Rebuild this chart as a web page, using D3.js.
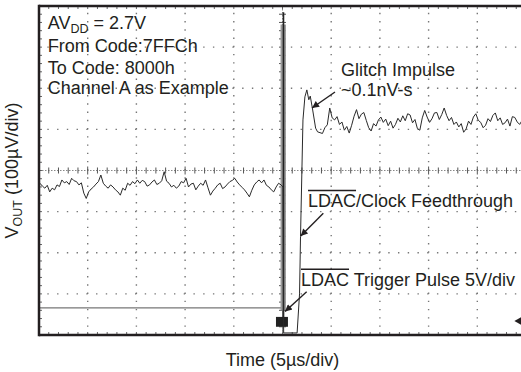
<!DOCTYPE html>
<html><head><meta charset="utf-8">
<script src="https://cdn.jsdelivr.net/npm/d3@7/dist/d3.min.js"></script>
<style>
html,body{margin:0;padding:0;background:#fff;}
svg{display:block;font-family:"Liberation Sans",Arial,Helvetica,sans-serif;}
</style></head>
<body><svg id="c" width="521" height="372"></svg>
<script>
// ---- Axis settings (oscilloscope: 10 x 8 divisions) ----
const timeDomain = [-25, 25];        // µs, 5 µs/div
const voutDomain = [-400, 400];      // µV, 100 µV/div
const divDomain = [-4, 4];           // divisions (trigger channel)
const xLabel = "Time (5µs/div)";

// ---- VOUT trace before the code change (sampled every 0.25 µs from -24.9 µs) ----
const preStart = -24.9, preStep = 0.25;
const preValues = [-31,-38,-43,-36,-52,-43,-47,-35,-39,-23,-30,-27,-34,-19,-25,-27,-35,-30,-55,-68,
  -52,-45,-40,-33,-27,-11,-31,-38,-43,-35,-40,-47,-52,-60,-43,-48,-31,-36,-27,-32,
  -23,-31,-24,-27,-38,-35,-28,-23,-34,-31,-25,-3,-26,-31,-40,-36,-43,-38,-27,-30,
  -19,-40,-33,-31,-47,-38,-31,-36,-23,-42,-60,-50,-43,-35,-31,-44,-40,-33,-27,-24,
  -19,-28,-35,-41,-47,-55,-64,-48,-35,-28,-23,-30,-23,-36,-40,-47,-52,-40,-31,-35];

// ---- VOUT around the transition (time µs, value µV) ----
const transitionT = [0.05, 0.12, 1.5, 1.75, 1.85, 2.1, 2.3, 2.5, 2.7, 2.85, 3.1, 3.4, 3.6];
const transitionV = [-40, -395, -395, -300, -160, 123, 179, 196, 172, 181, 147, 103, 94];

// ---- VOUT after the code change (sampled every 0.25 µs from 3.85 µs) ----
const postStart = 3.85, postStep = 0.25;
const postValues = [92,90,104,111,152,128,123,131,112,118,98,107,91,110,132,148,126,137,141,122,
  104,96,114,108,123,130,117,125,109,120,103,112,127,118,133,121,138,135,116,124,
  102,98,128,146,130,117,126,140,141,124,136,152,134,121,129,112,118,106,114,93,
  101,120,112,130,138,122,117,104,110,126,119,134,140,121,128,112,116,125,108,131,
  129,118,112,122,115];

// ---- LDAC / clock feedthrough band ----
const feedT = [-0.2, 0.35];
const feedV = [-340, 355];
const feedCoreT = 0.1;
const feedCoreV = [-360, 385];

// ---- LDAC trigger pulse (divisions) ----
const trigT = [-25, 0.0, 0.05];
const trigDiv = [-3.34, -3.34, -4.3];
const trigBoxT = [-0.67, 0.56];
const trigBoxDiv = [-3.56, -3.8];
const trigMarker = {t: 24.3, div: -3.66};

// ---- Annotations (data coordinates) ----
const infoLines = ["From Code:7FFCh", "To Code: 8000h", "Channel A as Example"];
const infoV = [288, 235, 186];
const infoT = -24.1;

const W = 521, H = 372;
const svg = d3.select("#c");
const x = d3.scaleLinear().domain(timeDomain).range([39, 526]);
const y = d3.scaleLinear().domain(voutDomain).range([335, 6]);
const yd = d3.scaleLinear().domain(divDomain).range([335, 6]);
const ink = "#231f20";

svg.append("defs").append("clipPath").attr("id","plot")
  .append("rect").attr("x", x(-25)).attr("y", y(400)).attr("width", x(25)-x(-25)).attr("height", y(-400)-y(400));
svg.select("defs").append("marker").attr("id","ah").attr("viewBox","0 0 10 10")
  .attr("refX",10).attr("refY",5).attr("markerWidth",9).attr("markerHeight",7)
  .attr("markerUnits","userSpaceOnUse").attr("orient","auto")
  .append("path").attr("d","M0,0 L10,5 L0,10 z").attr("fill", ink);

const g = svg.append("g");
// Dotted grid
const gridX = d3.range(-20, 25, 5);
const gridY = d3.range(-300, 400, 100);
const dx = x(1) - x(0), dyv = y(0) - y(20);
g.selectAll(".gx").data(gridX.filter(d => d !== 0)).join("line")
  .attr("x1", d => x(d)).attr("x2", d => x(d)).attr("y1", y(400)+ (dyv - 1.4)).attr("y2", y(-400))
  .attr("stroke", "#777").attr("stroke-width", 1.4).attr("stroke-dasharray", `1.4 ${dyv-1.4}`);
g.selectAll(".gy").data(gridY.filter(d => d !== 0)).join("line")
  .attr("y1", d => y(d)).attr("y2", d => y(d)).attr("x1", x(-25)+(dx-1.4)).attr("x2", x(25))
  .attr("stroke", "#777").attr("stroke-width", 1.4).attr("stroke-dasharray", `1.4 ${dx-1.4}`);

// Centre axes with fine ticks
g.append("line").attr("x1", x(-25)).attr("x2", x(25)).attr("y1", y(0)).attr("y2", y(0))
  .attr("stroke", "#888").attr("stroke-width", 1).attr("stroke-dasharray", "1.5 1.5");
g.append("line").attr("x1", x(0)).attr("x2", x(0)).attr("y1", y(400)).attr("y2", y(-400))
  .attr("stroke", "#888").attr("stroke-width", 1).attr("stroke-dasharray", "1.5 1.5");
g.selectAll(".tx").data(d3.range(-24, 25, 1)).join("line")
  .attr("x1", d => x(d)).attr("x2", d => x(d))
  .attr("y1", d => y(0) - (d % 5 === 0 ? 4 : 3)).attr("y2", d => y(0) + (d % 5 === 0 ? 4 : 3))
  .attr("stroke", "#555").attr("stroke-width", 1);
g.selectAll(".ty").data(d3.range(-380, 400, 20)).join("line")
  .attr("y1", d => y(d)).attr("y2", d => y(d))
  .attr("x1", d => x(0) - 3.5).attr("x2", d => x(0) + 3.5)
  .attr("stroke", "#555").attr("stroke-width", 1);
// border ticks
g.selectAll(".bt").data(d3.range(-24, 25, 1)).join("line")
  .attr("x1", d => x(d)).attr("x2", d => x(d)).attr("y1", y(400)).attr("y2", y(400)+3)
  .attr("stroke", "#666").attr("stroke-width", 1);
g.selectAll(".bb").data(d3.range(-24, 25, 1)).join("line")
  .attr("x1", d => x(d)).attr("x2", d => x(d)).attr("y1", y(-400)).attr("y2", y(-400)-3)
  .attr("stroke", "#666").attr("stroke-width", 1);
g.selectAll(".bl").data(d3.range(-380, 400, 20)).join("line")
  .attr("y1", d => y(d)).attr("y2", d => y(d)).attr("x1", x(-25)).attr("x2", x(-25)+3)
  .attr("stroke", "#666").attr("stroke-width", 1);

// Traces
const tr = svg.append("g").attr("clip-path", "url(#plot)");
// trigger pulse
const trigPts = trigT.map((t, i) => [t, trigDiv[i]]);
tr.append("path").attr("d", d3.line().x(d => x(d[0])).y(d => yd(d[1]))(trigPts))
  .attr("fill", "none").attr("stroke", "#777").attr("stroke-width", 1.1);
tr.append("rect").attr("x", x(trigBoxT[0])).attr("width", x(trigBoxT[1]) - x(trigBoxT[0]))
  .attr("y", yd(trigBoxDiv[0])).attr("height", yd(trigBoxDiv[1]) - yd(trigBoxDiv[0]))
  .attr("fill", "#222");
// feedthrough band
tr.append("rect").attr("x", x(feedT[0])).attr("width", x(feedT[1]) - x(feedT[0]))
  .attr("y", y(feedV[1])).attr("height", y(feedV[0]) - y(feedV[1])).attr("fill", "#999");
tr.append("line").attr("x1", x(feedCoreT)).attr("x2", x(feedCoreT))
  .attr("y1", y(feedCoreV[1])).attr("y2", y(feedCoreV[0])).attr("stroke", "#222").attr("stroke-width", 1.6);

// VOUT
const vout = [];
preValues.forEach((v, i) => vout.push([preStart + i * preStep, v]));
transitionT.forEach((t, i) => vout.push([t, transitionV[i]]));
postValues.forEach((v, i) => vout.push([postStart + i * postStep, v]));
tr.append("path").attr("d", d3.line().x(d => x(d[0])).y(d => y(d[1]))(vout))
  .attr("fill", "none").attr("stroke", "#2a2a2a").attr("stroke-width", 1).attr("stroke-linejoin", "round");

// trigger level marker
svg.append("path").attr("d", d3.symbol().type(d3.symbolTriangle).size(30)())
  .attr("transform", `translate(${x(trigMarker.t)},${yd(trigMarker.div)}) rotate(-90)`).attr("fill", ink);

// Frame
svg.append("line").attr("x1", x(-25)).attr("x2", W).attr("y1", y(400)).attr("y2", y(400)).attr("stroke", ink).attr("stroke-width", 2.5);
svg.append("line").attr("x1", x(-25)).attr("x2", W).attr("y1", y(-400)).attr("y2", y(-400)).attr("stroke", ink).attr("stroke-width", 2.5);
svg.append("line").attr("x1", x(-25)).attr("x2", x(-25)).attr("y1", y(400)-1.2).attr("y2", y(-400)+1.2).attr("stroke", ink).attr("stroke-width", 2.5);

// Annotations text
const fs = 18;
const t1 = svg.append("text").attr("x", x(infoT)).attr("y", y(344)).attr("fill", ink).attr("font-size", fs);
t1.append("tspan").text("AV");
t1.append("tspan").attr("font-size", 12.5).attr("dy", 4).text("DD");
t1.append("tspan").attr("dy", -4).text(" = 2.7V");
svg.selectAll(".info").data(infoLines).join("text")
  .attr("x", x(infoT)).attr("y", (d, i) => y(infoV[i])).attr("fill", ink).attr("font-size", fs).text(d => d);

svg.append("text").attr("x", x(6.0)).attr("y", y(230)).attr("fill", ink).attr("font-size", fs).text("Glitch Impulse");
svg.append("text").attr("x", x(6.0)).attr("y", y(181)).attr("fill", ink).attr("font-size", fs).text("~0.1nV-s");

function overlined(tx, v, rest) {
  const t = svg.append("text").attr("x", x(tx)).attr("y", y(v)).attr("fill", ink).attr("font-size", fs);
  const a = t.append("tspan").text("LDAC");
  t.append("tspan").text(rest);
  const w = a.node().getComputedTextLength();
  svg.append("line").attr("x1", x(tx)).attr("x2", x(tx) + w)
    .attr("y1", y(v) - 16.5).attr("y2", y(v) - 16.5).attr("stroke", ink).attr("stroke-width", 1.5);
}
overlined(2.62, -89, "/Clock Feedthrough");
overlined(1.9, -280, " Trigger Pulse 5V/div");

// Arrows
const arrows = [
  {t0: 5.39, v0: 191, t1: 3.03, v1: 152},
  {t0: 4.19, v0: -104, t1: 1.87, v1: -159},
  {t0: 2.48, v0: -295, t1: 0.26, v1: -343}
];
svg.selectAll(".arr").data(arrows).join("line")
  .attr("x1", d => x(d.t0)).attr("y1", d => y(d.v0)).attr("x2", d => x(d.t1)).attr("y2", d => y(d.v1))
  .attr("stroke", ink).attr("stroke-width", 1.4).attr("marker-end", "url(#ah)");

// Axis titles
svg.append("text").attr("x", x(0)).attr("y", 366).attr("text-anchor", "middle")
  .attr("fill", ink).attr("font-size", fs).text(xLabel);
const yl = svg.append("text").attr("transform", `translate(18,${y(0)}) rotate(-90)`)
  .attr("text-anchor", "middle").attr("fill", ink).attr("font-size", fs);
yl.append("tspan").text("V");
yl.append("tspan").attr("font-size", 12.5).attr("dy", 4).text("OUT");
yl.append("tspan").attr("dy", -4).text(" (100µV/div)");
</script></body></html>
